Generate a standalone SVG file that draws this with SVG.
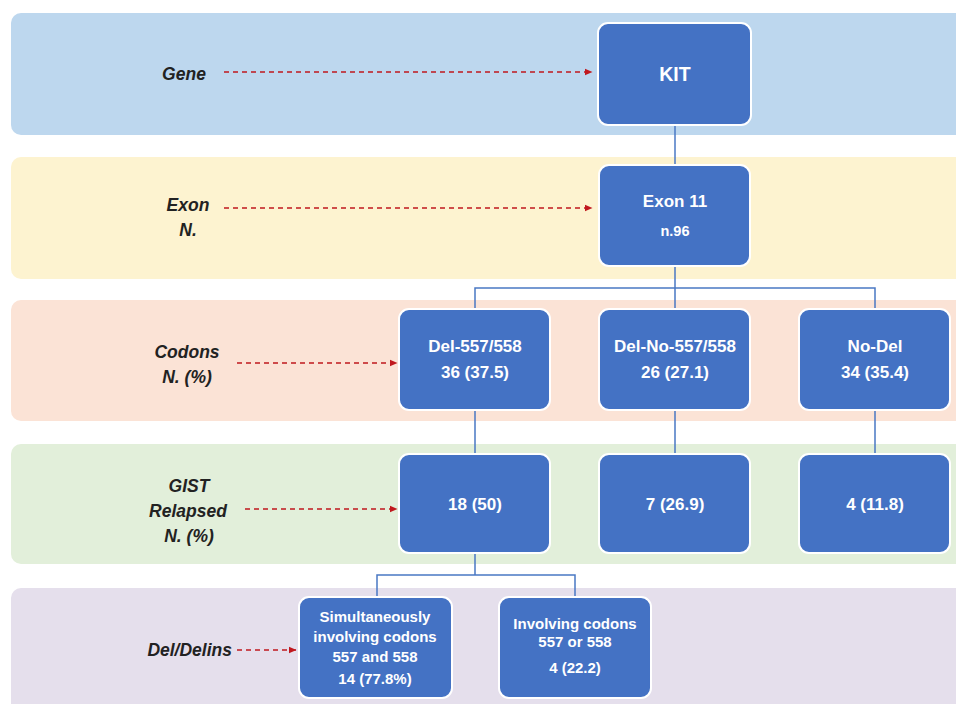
<svg xmlns="http://www.w3.org/2000/svg" width="956" height="704" viewBox="0 0 956 704">
<defs>
<marker id="ah" viewBox="0 0 8 8" refX="7.5" refY="4" markerWidth="8" markerHeight="8" markerUnits="userSpaceOnUse" orient="auto">
<path d="M0,0.5 L8,4 L0,7.5 Z" fill="#C0181E"/>
</marker>
<style>
.lbl{font-family:"Liberation Sans",Arial,sans-serif;font-weight:bold;font-style:italic;font-size:17.5px;fill:#222;text-anchor:middle}
.node rect{fill:#4472C4;stroke:#fff;stroke-width:2}
.nt{font-family:"Liberation Sans",Arial,sans-serif;font-weight:bold;font-size:17px;fill:#fff;text-anchor:middle}
.st{font-family:"Liberation Sans",Arial,sans-serif;font-weight:bold;font-size:15px;fill:#fff;text-anchor:middle}
.con{fill:none;stroke:#4a78c4;stroke-width:1.5}
.arr{fill:none;stroke:#C0181E;stroke-width:1.4;stroke-dasharray:5 4;marker-end:url(#ah)}
</style>
</defs>
<rect width="956" height="704" fill="#fff"/>
<g id="bands">
<rect x="11" y="13" width="960" height="122" rx="10" fill="#BDD7EE"/>
<rect x="11" y="157" width="960" height="122" rx="10" fill="#FDF3D0"/>
<rect x="11" y="300" width="960" height="121" rx="10" fill="#FBE3D6"/>
<rect x="11" y="444" width="960" height="120" rx="10" fill="#E2EFDA"/>
<rect x="11" y="588" width="960" height="130" rx="10" fill="#E5DFEC"/>
</g>
<g id="labels">
<text class="lbl" x="184" y="80">Gene</text>
<text class="lbl" x="188" y="211">Exon</text>
<text class="lbl" x="188" y="236">N.</text>
<text class="lbl" x="187" y="358">Codons</text>
<text class="lbl" x="187" y="383">N. (%)</text>
<text class="lbl" x="189" y="492">GIST</text>
<text class="lbl" x="188" y="517">Relapsed</text>
<text class="lbl" x="189" y="542">N. (%)</text>
<text class="lbl" x="232" y="656" style="text-anchor:end">Del/Delins</text>
</g>
<g id="connectors">
<path class="con" d="M675,125 V165"/>
<path class="con" d="M675,266 V288 M475,309 V288 H875 V309 M675,288 V309"/>
<path class="con" d="M475,410 V454 M675,410 V454 M875,410 V454"/>
<path class="con" d="M475,553 V575 M377,597 V575 H575 V597"/>
<path class="arr" d="M224,72 H592"/>
<path class="arr" d="M224,208 H592"/>
<path class="arr" d="M237,363 H397"/>
<path class="arr" d="M245,509 H397"/>
<path class="arr" d="M237,650 H296"/>
</g>
<g id="n-kit" class="node">
<rect x="598" y="23" width="153" height="102" rx="10"/>
<text class="nt" x="675" y="81" style="font-size:19.5px">KIT</text>
</g>
<g id="n-exon11" class="node">
<rect x="599" y="165" width="151" height="101" rx="10"/>
<text class="nt" x="675" y="207">Exon 11</text>
<text class="nt" x="675" y="236" style="font-size:14.5px">n.96</text>
</g>
<g id="n-del557" class="node">
<rect x="399" y="309" width="151" height="101" rx="10"/>
<text class="nt" x="475" y="352">Del-557/558</text>
<text class="nt" x="475" y="378">36 (37.5)</text>
</g>
<g id="n-delno557" class="node">
<rect x="599" y="309" width="151" height="101" rx="10"/>
<text class="nt" x="675" y="352">Del-No-557/558</text>
<text class="nt" x="675" y="378">26 (27.1)</text>
</g>
<g id="n-nodel" class="node">
<rect x="799" y="309" width="151" height="101" rx="10"/>
<text class="nt" x="875" y="352">No-Del</text>
<text class="nt" x="875" y="378">34 (35.4)</text>
</g>
<g id="n-rel1" class="node">
<rect x="399" y="454" width="151" height="99" rx="10"/>
<text class="nt" x="475" y="510">18 (50)</text>
</g>
<g id="n-rel2" class="node">
<rect x="599" y="454" width="151" height="99" rx="10"/>
<text class="nt" x="675" y="510">7 (26.9)</text>
</g>
<g id="n-rel3" class="node">
<rect x="799" y="454" width="151" height="99" rx="10"/>
<text class="nt" x="875" y="510">4 (11.8)</text>
</g>
<g id="n-sim" class="node">
<rect x="299" y="597" width="153" height="101" rx="10"/>
<text class="st" x="375" y="622">Simultaneously</text>
<text class="st" x="375" y="642">involving codons</text>
<text class="st" x="375" y="662">557 and 558</text>
<text class="st" x="375" y="684">14 (77.8%)</text>
</g>
<g id="n-inv" class="node">
<rect x="499" y="597" width="152" height="101" rx="10"/>
<text class="st" x="575" y="629">Involving codons</text>
<text class="st" x="575" y="647">557 or 558</text>
<text class="st" x="575" y="673">4 (22.2)</text>
</g>
</svg>
